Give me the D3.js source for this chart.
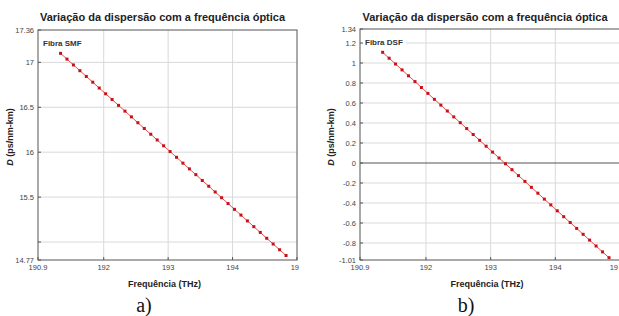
<!DOCTYPE html>
<html>
<head>
<meta charset="utf-8">
<script src="https://cdn.jsdelivr.net/npm/d3@7"></script>
<style>
  body { margin: 0; background: #fff; }
  svg { display: block; font-family: Arial, "Liberation Sans", sans-serif; }
</style>
</head>
<body>
<div id="chart"></div>
<script>
// Frequencies (THz) shared by both fibres
var freq = [191.33, 191.43, 191.53, 191.63, 191.73, 191.83, 191.93, 192.03, 192.13, 192.23,
            192.33, 192.43, 192.53, 192.63, 192.73, 192.83, 192.93, 193.03, 193.13, 193.23,
            193.33, 193.43, 193.53, 193.63, 193.73, 193.83, 193.93, 194.03, 194.13, 194.23,
            194.33, 194.43, 194.53, 194.63, 194.73, 194.83];

// Dispersion values (ps/nm-km) for the standard fibre
var dSMF = [17.100, 17.036, 16.971, 16.907, 16.843, 16.779, 16.714, 16.650, 16.586, 16.521,
            16.457, 16.393, 16.328, 16.264, 16.200, 16.136, 16.071, 16.007, 15.943, 15.878,
            15.814, 15.750, 15.685, 15.621, 15.557, 15.493, 15.428, 15.364, 15.300, 15.235,
            15.171, 15.107, 15.042, 14.978, 14.914, 14.850];

// Dispersion values (ps/nm-km) for the dispersion shifted fibre
var dDSF = [1.107, 1.048, 0.990, 0.931, 0.872, 0.814, 0.755, 0.696, 0.637, 0.579,
            0.520, 0.461, 0.403, 0.344, 0.285, 0.227, 0.168, 0.109, 0.050, -0.008,
            -0.067, -0.126, -0.184, -0.243, -0.302, -0.361, -0.419, -0.478, -0.537, -0.595,
            -0.654, -0.713, -0.771, -0.830, -0.889, -0.947];

// Tick values and labels
var xTicks = [190.98, 192, 193, 194, 195];
var xTickLabels = ["190.9", "192", "193", "194", "19"];
var yTicksSMF = [17.36, 17, 16.5, 16, 15.5, 15, 14.8];
var yTickLabelsSMF = ["17.36", "17", "16.5", "16", "15.5", "", "14.77"];
var yTicksDSF = [1.34, 1.2, 1, 0.8, 0.6, 0.4, 0.2, 0, -0.2, -0.4, -0.6, -0.8, -0.97];
var yTickLabelsDSF = ["1.34", "1.2", "1", "0.8", "0.6", "0.4", "0.2", "0", "-0.2", "-0.4", "-0.6", "-0.8", "-1.01"];

var width = 619;
var height = 316;

var svg = d3.select("#chart")
    .append("svg")
    .attr("width", width)
    .attr("height", height);

var title = "Variação da dispersão com a frequência óptica";

// Draw one panel of the figure
function drawPanel(p) {
    var clipId = "clip_" + p.id;
    svg.append("clipPath").attr("id", clipId)
        .append("rect")
        .attr("x", p.clip[0]).attr("y", 0)
        .attr("width", p.clip[1] - p.clip[0]).attr("height", height);

    var g = svg.append("g").attr("clip-path", "url(#" + clipId + ")");

    var x = d3.scaleLinear().domain([190.98, 195]).range([p.left, p.right]);
    var y = d3.scaleLinear().domain(p.yDomain).range([p.bottom, p.top]);

    // grid lines
    g.selectAll(".vgrid")
        .data(xTicks.slice(1, 4))
        .enter().append("line")
        .attr("x1", d => x(d)).attr("x2", d => x(d))
        .attr("y1", p.top).attr("y2", p.bottom)
        .attr("stroke", "#d9d9d9").attr("stroke-width", 1);

    g.selectAll(".hgrid")
        .data(p.yTicks.slice(1, -1))
        .enter().append("line")
        .attr("x1", p.left).attr("x2", p.right)
        .attr("y1", d => y(d)).attr("y2", d => y(d))
        .attr("stroke", d => d === 0 ? "#555" : "#d9d9d9")
        .attr("stroke-width", 1);

    // legend label with white background
    g.append("rect")
        .attr("x", p.left + 2).attr("y", p.top + 6)
        .attr("width", p.legendW).attr("height", 14)
        .attr("fill", "#fff");
    g.append("text")
        .attr("x", p.left + 5).attr("y", p.top + 16)
        .attr("font-size", 8).attr("font-weight", "bold")
        .attr("fill", "#333")
        .text(p.legend);

    // data line and markers
    var line = d3.line()
        .x((d, i) => x(freq[i]))
        .y(d => y(d));

    g.append("path")
        .datum(p.values)
        .attr("d", line)
        .attr("fill", "none")
        .attr("stroke", "#e8504a")
        .attr("stroke-width", 1);

    g.selectAll(".pt")
        .data(p.values)
        .enter().append("rect")
        .attr("x", (d, i) => x(freq[i]) - 1.5)
        .attr("y", d => y(d) - 1.5)
        .attr("width", 3).attr("height", 3)
        .attr("fill", "#c8101a");

    // frame
    g.append("rect")
        .attr("x", p.left).attr("y", p.top)
        .attr("width", p.right - p.left).attr("height", p.bottom - p.top)
        .attr("fill", "none").attr("stroke", "#555").attr("stroke-width", 1);

    // y ticks and labels
    g.selectAll(".ytick")
        .data(p.yTicks)
        .enter().append("line")
        .attr("x1", p.left).attr("x2", p.left + 3)
        .attr("y1", d => y(d)).attr("y2", d => y(d))
        .attr("stroke", "#555");

    g.selectAll(".ylab")
        .data(p.yTicks)
        .enter().append("text")
        .attr("x", p.left - 4)
        .attr("y", d => y(d) + 2.5)
        .attr("text-anchor", "end")
        .attr("font-size", 7.5)
        .attr("fill", "#444")
        .text((d, i) => p.yTickLabels[i]);

    // x ticks and labels
    g.selectAll(".xtick")
        .data(xTicks)
        .enter().append("line")
        .attr("x1", d => x(d)).attr("x2", d => x(d))
        .attr("y1", p.bottom).attr("y2", p.bottom - 3)
        .attr("stroke", "#555");

    g.selectAll(".xlab")
        .data(xTicks)
        .enter().append("text")
        .attr("x", (d, i) => i === xTicks.length - 1 ? p.lastLabelX : x(d))
        .attr("y", p.bottom + 10)
        .attr("text-anchor", (d, i) => i === xTicks.length - 1 ? "end" : "middle")
        .attr("font-size", 7.5)
        .attr("fill", "#444")
        .text((d, i) => xTickLabels[i]);

    // title and axis titles
    g.append("text")
        .attr("x", (p.left + p.right) / 2 - 5)
        .attr("y", 21)
        .attr("text-anchor", "middle")
        .attr("font-size", 11).attr("font-weight", "bold")
        .attr("fill", "#222")
        .text(title);

    g.append("text")
        .attr("x", (p.left + p.right) / 2 - 3)
        .attr("y", p.bottom + 27)
        .attr("text-anchor", "middle")
        .attr("font-size", 9).attr("font-weight", "bold")
        .attr("fill", "#222")
        .text("Frequência (THz)");

    var yl = g.append("text")
        .attr("transform", "translate(" + p.yLabelX + "," + 137 + ") rotate(-90)")
        .attr("text-anchor", "middle")
        .attr("font-size", 9).attr("font-weight", "bold")
        .attr("fill", "#222");
    yl.append("tspan").attr("font-style", "italic").text("D");
    yl.append("tspan").text(" (ps/nm-km)");

    // panel letter
    svg.append("text")
        .attr("x", p.letterX)
        .attr("y", 312)
        .attr("text-anchor", "middle")
        .attr("font-family", "'Liberation Serif', 'DejaVu Serif', serif")
        .attr("font-size", 20)
        .attr("fill", "#111")
        .text(p.letter);
}

drawPanel({
    id: "a", clip: [0, 301],
    left: 38, right: 297, top: 30, bottom: 260,
    yDomain: [14.8, 17.36],
    yTicks: yTicksSMF, yTickLabels: yTickLabelsSMF,
    values: dSMF, legend: "Fibra SMF", legendW: 44,
    yLabelX: 13, letterX: 144, letter: "a)", lastLabelX: 299
});

drawPanel({
    id: "b", clip: [310, 619],
    left: 360, right: 620, top: 29, bottom: 260,
    yDomain: [-0.97, 1.34],
    yTicks: yTicksDSF, yTickLabels: yTickLabelsDSF,
    values: dDSF, legend: "Fibra DSF", legendW: 44,
    yLabelX: 334, letterX: 466, letter: "b)", lastLabelX: 618
});
</script>
</body>
</html>
